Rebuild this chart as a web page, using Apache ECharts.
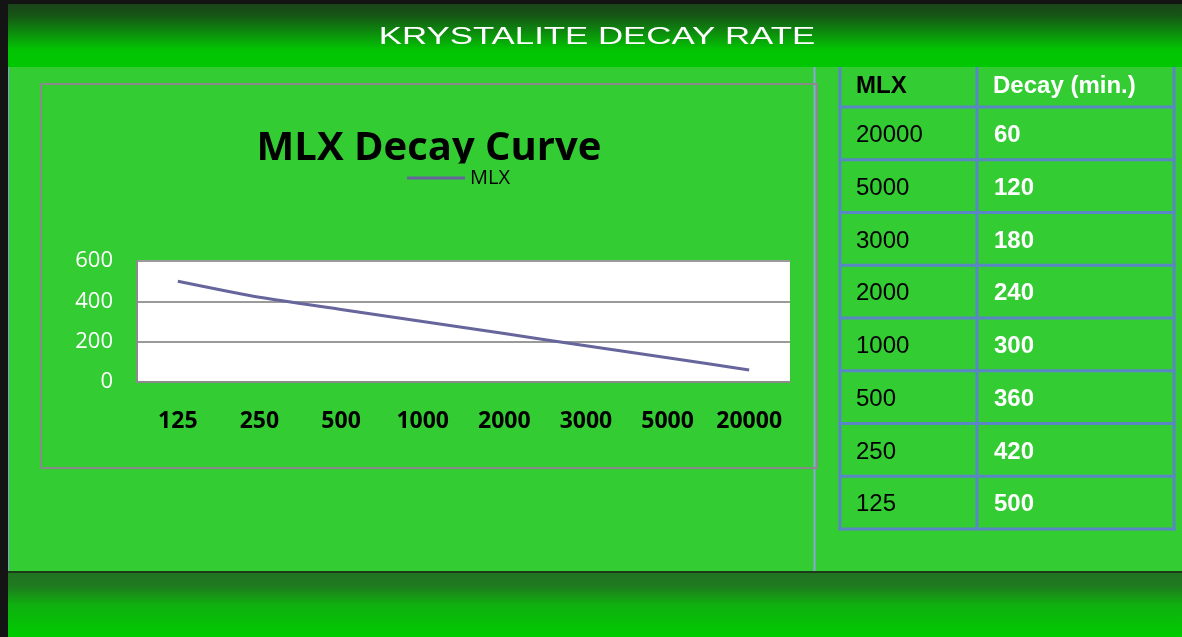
<!DOCTYPE html>
<html>
<head>
<meta charset="utf-8">
<script src="https://cdn.jsdelivr.net/npm/echarts@6/dist/echarts.min.js"></script>
<style>
  html, body { margin: 0; padding: 0; background: #141414; }
  #chart { width: 1182px; height: 637px; }
</style>
</head>
<body>
<div id="chart"></div>
<script>
// ---- data ----
const pageTitle = 'KRYSTALITE DECAY RATE';
const chartTitle = 'MLX Decay Curve';
const seriesName = 'MLX';
const categories = ['125', '250', '500', '1000', '2000', '3000', '5000', '20000'];
const decayValues = [500, 420, 360, 300, 240, 180, 120, 60];
const tableHeader = ['MLX', 'Decay (min.)'];
const tableMlx = ['20000', '5000', '3000', '2000', '1000', '500', '250', '125'];
const tableDecay = ['60', '120', '180', '240', '300', '360', '420', '500'];

// ---- layout ----
const W = 1182, H = 637;
const GREEN = '#33cc33';
const chart = echarts.init(document.getElementById('chart'));

const graphics = [];
graphics.push({ type: 'rect', shape: { x: 0, y: 0, width: W, height: H }, style: { fill: '#141414' }, z: -20 });
graphics.push({ type: 'rect', shape: { x: 8, y: 67, width: W - 8, height: 504 }, style: { fill: GREEN }, z: -19 });
// header band
graphics.push({
  type: 'rect', shape: { x: 8, y: 4, width: W - 8, height: 63 }, z: -18,
  style: { fill: new echarts.graphic.LinearGradient(0, 0, 0, 1, [
    { offset: 0, color: '#1a461a' }, { offset: 0.18, color: '#165516' },
    { offset: 0.72, color: '#03c303' }, { offset: 1, color: '#00c800' }]) }
});
// footer band
graphics.push({ type: 'rect', shape: { x: 8, y: 571, width: W - 8, height: 2 }, style: { fill: '#1b3b1b' }, z: -18 });
graphics.push({
  type: 'rect', shape: { x: 8, y: 573, width: W - 8, height: H - 573 }, z: -18,
  style: { fill: new echarts.graphic.LinearGradient(0, 0, 0, 1, [
    { offset: 0, color: '#217321' }, { offset: 0.2, color: '#1f7a1f' },
    { offset: 0.5, color: '#0fb00f' }, { offset: 1, color: '#00cc00' }]) }
});
graphics.push({ type: 'rect', shape: { x: 8, y: 67, width: 1, height: 504 }, style: { fill: '#7f9fd0' }, z: -17 });
graphics.push({ type: 'rect', shape: { x: 813.5, y: 67, width: 2, height: 504 }, style: { fill: '#8fa4dc' }, z: -17 });
// chart frame
graphics.push({ type: 'rect', shape: { x: 41, y: 84, width: 776, height: 384 }, style: { fill: null, stroke: '#8a8a8a', lineWidth: 2 }, z: -16 });
// header title (stretched like the source)
graphics.push({
  type: 'text', x: 597, y: 37, scaleX: 1.45, z: 20,
  style: { text: pageTitle, fill: '#ffffff', font: '24px "Liberation Sans", Arial, sans-serif', textAlign: 'center', textVerticalAlign: 'middle' }
});
// chart title
graphics.push({
  type: 'text', x: 429, y: 169, z: 1,
  style: { text: chartTitle, fill: '#000000', font: 'bold 40px "Open Sans", sans-serif', textAlign: 'center', textVerticalAlign: 'bottom' }
});
// clipped lower edge of the chart title (as in the source); sits below the legend
graphics.push({ type: 'rect', shape: { x: 240, y: 163.5, width: 380, height: 9 }, style: { fill: GREEN }, z: 2 });

// table
const tX = [840, 977, 1174];
const rowTop = 107, rowH = 52.75, headTop = 67;
const border = '#5a86c6';
const nRows = tableMlx.length;
const tBottom = rowTop + rowH * nRows;
tX.forEach(x => graphics.push({ type: 'line', shape: { x1: x, y1: headTop, x2: x, y2: tBottom + 1.5 }, style: { stroke: border, lineWidth: 3 }, z: 5 }));
for (let i = 0; i <= nRows; i++) {
  const y = rowTop + rowH * i;
  graphics.push({ type: 'line', shape: { x1: tX[0] - 1.5, y1: y, x2: tX[2] + 1.5, y2: y }, style: { stroke: border, lineWidth: 3 }, z: 5 });
}
const tFont = '24px "Liberation Sans", Arial, sans-serif';
const tFontB = 'bold 24px "Liberation Sans", Arial, sans-serif';
graphics.push({ type: 'text', x: 856, y: 86, z: 6, style: { text: tableHeader[0], fill: '#000', font: tFontB, textVerticalAlign: 'middle' } });
graphics.push({ type: 'text', x: 993, y: 86, z: 6, style: { text: tableHeader[1], fill: '#fff', font: tFontB, textVerticalAlign: 'middle' } });
for (let i = 0; i < nRows; i++) {
  const cy = rowTop + rowH * i + rowH / 2 + 2;
  graphics.push({ type: 'text', x: 856, y: cy, z: 6, style: { text: tableMlx[i], fill: '#000', font: tFont, textVerticalAlign: 'middle' } });
  graphics.push({ type: 'text', x: 994, y: cy, z: 6, style: { text: tableDecay[i], fill: '#fff', font: tFontB, textVerticalAlign: 'middle' } });
}

const option = {
  backgroundColor: GREEN,
  animation: false,
  graphic: graphics,
  legend: {
    data: [seriesName], left: 402, top: 163, z: 10,
    itemWidth: 58, itemHeight: 14, icon: 'path://M0,6 L58,6 L58,9 L0,9 Z',
    textStyle: { color: '#000', fontSize: 20, fontFamily: 'Open Sans' }
  },
  grid: {
    left: 137, top: 261, width: 653, height: 121,
    show: true, backgroundColor: '#ffffff', borderWidth: 0
  },
  xAxis: {
    type: 'category', data: categories, boundaryGap: true,
    axisLine: { lineStyle: { color: '#8c8c8c', width: 2 } },
    axisTick: { show: false },
    axisLabel: { interval: 0, color: '#000', fontWeight: 'bold', fontSize: 23, fontFamily: 'Open Sans', margin: 28 }
  },
  yAxis: {
    type: 'value', min: 0, max: 600, interval: 200,
    axisLine: { show: true, lineStyle: { color: '#8c8c8c', width: 2 } },
    axisTick: { show: false },
    splitLine: { lineStyle: { color: '#9a9a9a', width: 2 } },
    axisLabel: { color: '#fff', fontSize: 22, fontFamily: 'Open Sans', margin: 24 }
  },
  series: [{
    name: seriesName, type: 'line', data: decayValues,
    smooth: 0.2, symbol: 'none',
    lineStyle: { color: '#66669c', width: 3 }, itemStyle: { color: '#66669c' }
  }]
};
chart.setOption(option);
</script>
</body>
</html>
